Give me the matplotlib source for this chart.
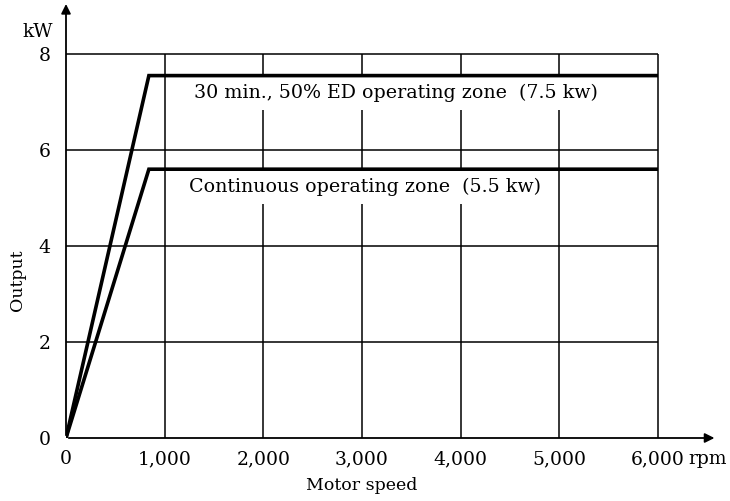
import matplotlib
matplotlib.use('Agg')
import matplotlib.pyplot as plt

# Output curves (rpm, kW)
speed_30min = [0, 840, 6000]
power_30min = [0, 7.55, 7.55]
speed_cont = [0, 840, 6000]
power_cont = [0, 5.6, 5.6]

x_ticks = [0, 1000, 2000, 3000, 4000, 5000, 6000]
x_labels = ['0', '1,000', '2,000', '3,000', '4,000', '5,000', '6,000']
y_ticks = [0, 2, 4, 6, 8]
y_labels = ['0', '2', '4', '6', '8']

label_30min = '30 min., 50% ED operating zone  (7.5 kw)'
label_cont = 'Continuous operating zone  (5.5 kw)'

plt.rcParams['font.family'] = ['DejaVu Serif']

fig = plt.figure(figsize=(7.30, 5.01), dpi=100)
ax = fig.add_axes([66 / 730, 63 / 501, 592 / 730, 384 / 501])
ax.set_xlim(0, 6000)
ax.set_ylim(0, 8)
for s in ax.spines.values():
    s.set_visible(False)

# grid: horizontal lines and vertical lines, closed box at top/right
ax.hlines(y_ticks[1:], 0, 6000, color='k', lw=1.1, zorder=1, clip_on=False)
ax.vlines(x_ticks[1:], 0, 8, color='k', lw=1.1, zorder=1, clip_on=False)

# axes with arrows
ax.annotate('', xy=(6600, 0), xytext=(0, 0), xycoords='data',
            arrowprops=dict(arrowstyle='-|>', color='k', lw=1.3, mutation_scale=14),
            annotation_clip=False, zorder=3)
ax.annotate('', xy=(0, 9.1), xytext=(0, 0), xycoords='data',
            arrowprops=dict(arrowstyle='-|>', color='k', lw=1.3, mutation_scale=14),
            annotation_clip=False, zorder=3)

# zone labels, white background breaks the grid lines
box = dict(facecolor='white', edgecolor='none', pad=6)
ax.text(1300, 7.19, label_30min, fontsize=13.7, va='center', ha='left', bbox=box, zorder=2)
ax.text(1250, 5.23, label_cont, fontsize=13.7, va='center', ha='left', bbox=box, zorder=2)

# operating limit curves
ax.plot(speed_30min, power_30min, color='k', lw=2.6, solid_joinstyle='miter', zorder=4)
ax.plot(speed_cont, power_cont, color='k', lw=2.6, solid_joinstyle='miter', zorder=4)

ax.set_xticks(x_ticks)
ax.set_xticklabels(x_labels, fontsize=13.5)
ax.set_yticks(y_ticks)
ax.set_yticklabels(y_labels, fontsize=13.5)
ax.tick_params(length=0)
ax.tick_params(axis='x', pad=9)
ax.tick_params(axis='y', pad=11)

ax.text(6310, -0.55, 'rpm', fontsize=13.5, ha='left', va='baseline')
ax.text(-0.022, 1.057, 'kW', transform=ax.transAxes, fontsize=13.5, ha='right', va='center')

ax.set_xlabel('Motor speed', fontsize=12.5, labelpad=6)
ax.set_ylabel('Output', fontsize=12.5)
ax.yaxis.set_label_coords(-0.068, 0.41)

fig.savefig('out.png', dpi=100)
